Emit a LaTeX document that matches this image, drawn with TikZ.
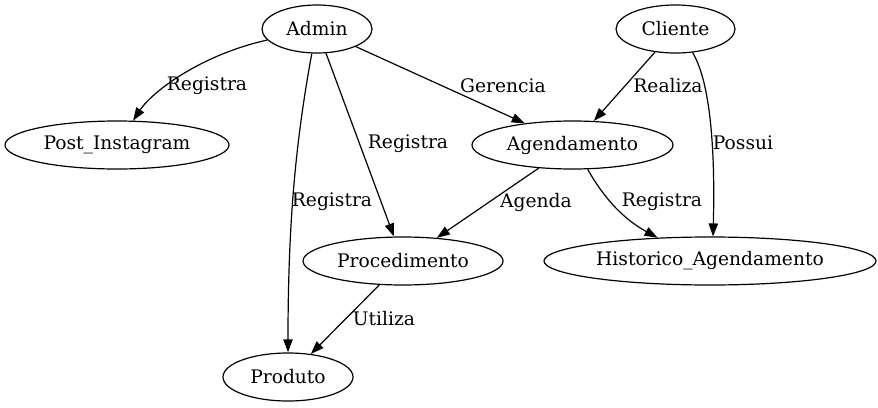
\documentclass[tikz,border=0pt]{standalone}
\usepackage{fontspec}
\setmainfont{DejaVu Serif}
\usetikzlibrary{shapes.geometric,arrows.meta}
\begin{document}
\begin{tikzpicture}[x=1pt,y=-1pt,
  ent/.style={ellipse, draw, line width=1.2pt, inner sep=0pt, minimum height=48pt,
    font=\fontsize{18.67pt}{22pt}\selectfont},
  lbl/.style={inner sep=0pt, font=\fontsize{18.67pt}{22pt}\selectfont},
  edge/.style={draw, line width=1.2pt, -{Triangle[length=13pt,width=9.3pt]}}]
\useasboundingbox (0,0) rectangle (878,407);
\node[ent, minimum width=110pt] (admin) at (317,29) {Admin};
\node[ent, minimum width=119pt] (cliente) at (675.5,29) {Cliente};
\node[ent, minimum width=224pt] (post) at (117,145) {Post\_Instagram};
\node[ent, minimum width=201pt] (agend) at (572.5,145) {Agendamento};
\node[ent, minimum width=200pt] (proc) at (403,261) {Procedimento};
\node[ent, minimum width=332pt] (hist) at (710,261) {Historico\_Agendamento};
\node[ent, minimum width=130pt] (prod) at (288,377) {Produto};

\draw[edge] (admin) .. controls (200,55) and (152,92) .. (post);
\node[lbl] (l1) at (207,86) {Registra};
\draw[edge] (admin) -- (agend);
\node[lbl] (l2) at (503,86) {Gerencia};
\draw[edge] (admin) -- (proc);
\node[lbl] (l3) at (408,144) {Registra};
\draw[edge] (admin.-102) .. controls (296,140) and (288,220) .. (prod.north);
\node[lbl] (l4) at (332,202) {Registra};
\draw[edge] (cliente) -- (agend);
\node[lbl] (l5) at (668,86) {Realiza};
\draw[edge] (cliente.-54) .. controls (712,85) and (715,160) .. (hist.83);
\node[lbl] (l6) at (743,143) {Possui};
\draw[edge] (agend) -- (proc);
\node[lbl] (l7) at (536,202) {Agenda};
\draw[edge] (agend.-58) .. controls (605,200) and (625,220) .. (hist.156);
\node[lbl] (l8) at (662,202) {Registra};
\draw[edge] (proc) -- (prod);
\node[lbl] (l9) at (384,319) {Utiliza};
\end{tikzpicture}
\end{document}
